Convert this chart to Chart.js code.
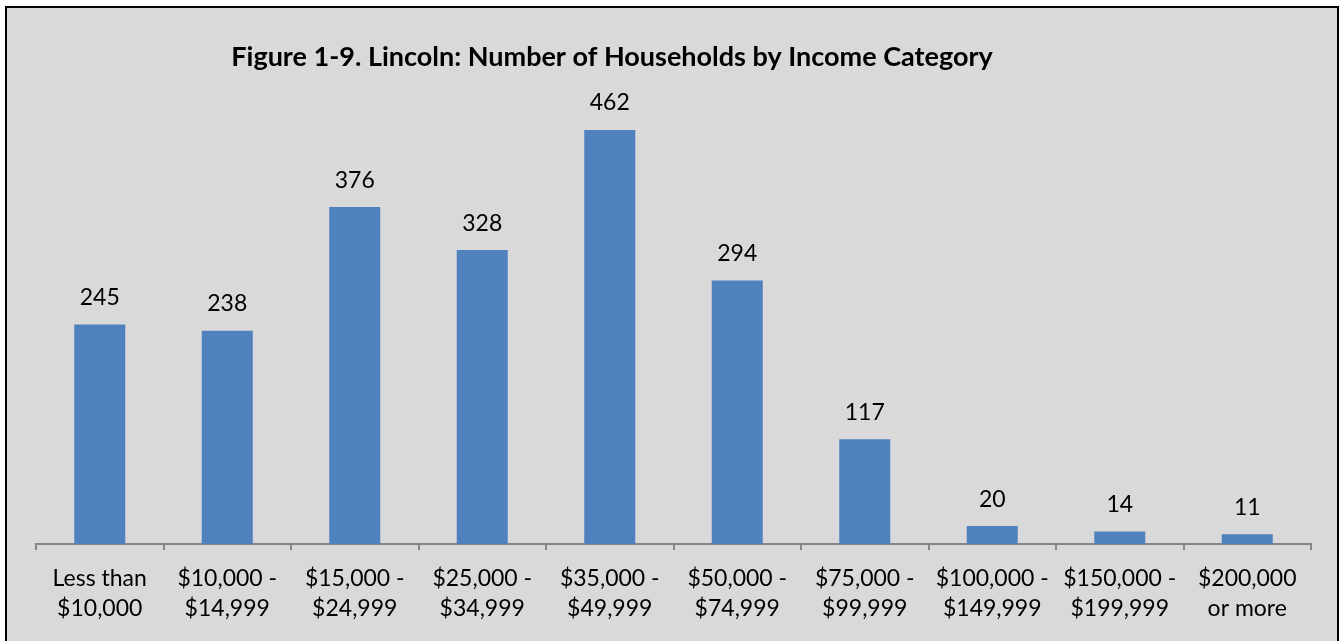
<!DOCTYPE html>
<html>
<head>
<meta charset="utf-8">
<script src="https://cdn.jsdelivr.net/npm/chart.js@4/dist/chart.umd.min.js"></script>
<style>
  html, body { margin: 0; padding: 0; background: #ffffff; }
  #wrap { width: 1340px; height: 641px; position: relative; }
</style>
</head>
<body>
<div id="wrap"><canvas id="chart" width="1340" height="641"></canvas></div>
<script>
const chartTitle = 'Figure 1-9. Lincoln: Number of Households by Income Category';
const categories = [
  ['Less than', '$10,000'],
  ['$10,000 -', '$14,999'],
  ['$15,000 -', '$24,999'],
  ['$25,000 -', '$34,999'],
  ['$35,000 -', '$49,999'],
  ['$50,000 -', '$74,999'],
  ['$75,000 -', '$99,999'],
  ['$100,000 -', '$149,999'],
  ['$150,000 -', '$199,999'],
  ['$200,000', 'or more']
];
const households = [245, 238, 376, 328, 462, 294, 117, 20, 14, 11];

const FONT = 'Lato, "Noto Sans", sans-serif';

// Grey panel with a black frame behind everything
const framePlugin = {
  id: 'frame',
  beforeDraw(chart) {
    const ctx = chart.ctx;
    ctx.save();
    ctx.fillStyle = '#ffffff';
    ctx.fillRect(0, 0, chart.width, chart.height);
    ctx.fillStyle = '#d9d9d9';
    ctx.fillRect(6, 7, 1332, 650);
    ctx.strokeStyle = '#000000';
    ctx.lineWidth = 2;
    ctx.strokeRect(6, 7, 1332, 650);
    ctx.restore();
  }
};

// Bold title, placed like the spreadsheet's chart title
const titlePlugin = {
  id: 'sheetTitle',
  afterDraw(chart) {
    const ctx = chart.ctx;
    ctx.save();
    ctx.font = 'bold 27px ' + FONT;
    ctx.fillStyle = '#000000';
    ctx.textAlign = 'center';
    ctx.textBaseline = 'middle';
    ctx.fillText(chartTitle, 612, 57);
    ctx.restore();
  }
};

// Value labels above each bar
const valueLabels = {
  id: 'valueLabels',
  afterDatasetsDraw(chart) {
    const ctx = chart.ctx;
    const meta = chart.getDatasetMeta(0);
    ctx.save();
    ctx.font = '23px ' + FONT;
    ctx.fillStyle = '#000000';
    ctx.textAlign = 'center';
    ctx.textBaseline = 'middle';
    meta.data.forEach((bar, i) => {
      ctx.fillText(String(households[i]), bar.x, bar.y - 27);
    });
    ctx.restore();
  }
};

new Chart(document.getElementById('chart'), {
  type: 'bar',
  data: {
    labels: categories,
    datasets: [{
      data: households,
      backgroundColor: '#4f81bd',
      borderWidth: 0,
      barPercentage: 0.4,
      categoryPercentage: 1.0
    }]
  },
  options: {
    responsive: false,
    animation: false,
    layout: { padding: { left: 36, right: 29, top: 96, bottom: 3 } },
    plugins: {
      legend: { display: false },
      tooltip: { enabled: false },
      title: { display: false }
    },
    scales: {
      x: {
        offset: true,
        grid: {
          offset: true,
          drawOnChartArea: false,
          drawTicks: true,
          tickLength: 6,
          color: '#868686',
          lineWidth: 2
        },
        border: { display: true, color: '#868686', width: 2 },
        ticks: {
          color: '#000000',
          font: { family: FONT, size: 23, lineHeight: '30px' },
          padding: 14,
          maxRotation: 0,
          autoSkip: false
        }
      },
      y: {
        display: false,
        min: 0,
        max: 500
      }
    }
  },
  plugins: [framePlugin, titlePlugin, valueLabels]
});
</script>
</body>
</html>
